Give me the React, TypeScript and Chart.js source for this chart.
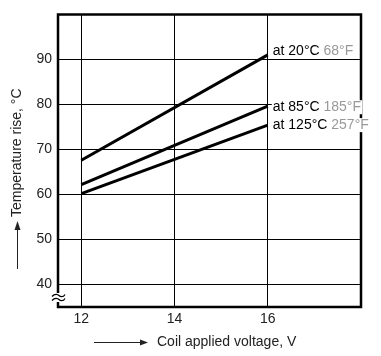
import React, { useEffect, useRef } from "react";
import { Chart, registerables } from "chart.js";

Chart.register(...registerables);

const voltages = [12, 16];
const rise20C = [67.6, 91.0];
const rise85C = [62.2, 79.6];
const rise125C = [60.2, 75.4];
const seriesLabelsC = ["at 20°C", "at 85°C", "at 125°C"];
const seriesLabelsF = ["68°F", "185°F", "257°F"];
const xTicks = [12, 14, 16];
const yTicks = [40, 50, 60, 70, 80, 90];
const xTitle = "Coil applied voltage, V";
const yTitle = "Temperature rise, °C";

const FONT = "'Liberation Sans', Arial, sans-serif";

const decorPlugin = {
  id: "decor",
  afterDatasetsDraw(chart: any) {
    const ctx = chart.ctx;
    const { left, right, top, bottom } = chart.chartArea;
    ctx.save();
    // frame
    ctx.strokeStyle = "#000";
    ctx.lineWidth = 2.5;
    ctx.beginPath();
    ctx.rect(left, top, right - left, bottom - top);
    ctx.stroke();

    // axis break mark
    ctx.fillStyle = "#fff";
    ctx.fillRect(left - 6, bottom - 14, 12, 9);
    ctx.strokeStyle = "#000";
    ctx.lineWidth = 1.3;
    [-11.5, -7.5].forEach((off) => {
      const y0 = bottom + off;
      ctx.beginPath();
      ctx.moveTo(left - 6, y0 + 1);
      ctx.bezierCurveTo(left - 3, y0 - 2.5, left, y0 - 1, left + 1, y0);
      ctx.bezierCurveTo(left + 2, y0 + 1, left + 5, y0 + 2.5, left + 7, y0 - 1);
      ctx.stroke();
    });

    // series end labels
    const xs = chart.scales.x;
    const ys = chart.scales.y;
    const sets = [rise20C, rise85C, rise125C];
    const dy = [-4, 1, 0];
    ctx.font = `14px ${FONT}`;
    ctx.textAlign = "left";
    ctx.textBaseline = "middle";
    sets.forEach((vals, i) => {
      const px = xs.getPixelForValue(voltages[voltages.length - 1]) + 5;
      const py = ys.getPixelForValue(vals[vals.length - 1]) + dy[i];
      const c = seriesLabelsC[i] + " ";
      const wc = ctx.measureText(c).width;
      const wf = ctx.measureText(seriesLabelsF[i]).width;
      ctx.fillStyle = "#fff";
      ctx.fillRect(px - 1, py - 7, wc + wf + 2, 14);
      ctx.fillStyle = "#000";
      ctx.fillText(c, px, py);
      ctx.fillStyle = "#999";
      ctx.fillText(seriesLabelsF[i], px + wc, py);
    });

    // x title with arrow
    ctx.fillStyle = "#222";
    ctx.strokeStyle = "#222";
    ctx.lineWidth = 1;
    const ty = 342;
    ctx.beginPath();
    ctx.moveTo(94, ty + 0.5);
    ctx.lineTo(142, ty + 0.5);
    ctx.stroke();
    ctx.beginPath();
    ctx.moveTo(148, ty + 0.5);
    ctx.lineTo(140, ty - 2.5);
    ctx.lineTo(140, ty + 3.5);
    ctx.closePath();
    ctx.fill();
    ctx.textAlign = "left";
    ctx.fillText(xTitle, 157, ty);

    // y title with arrow
    const tx = 17;
    ctx.beginPath();
    ctx.moveTo(tx + 0.5, 269);
    ctx.lineTo(tx + 0.5, 228);
    ctx.stroke();
    ctx.beginPath();
    ctx.moveTo(tx + 0.5, 221);
    ctx.lineTo(tx - 2.5, 230);
    ctx.lineTo(tx + 3.5, 230);
    ctx.closePath();
    ctx.fill();
    ctx.save();
    ctx.translate(tx, 217);
    ctx.rotate(-Math.PI / 2);
    ctx.textAlign = "left";
    ctx.textBaseline = "middle";
    ctx.fillText(yTitle, 0, 0);
    ctx.restore();

    ctx.restore();
  },
};

export default function App() {
  const ref = useRef<HTMLCanvasElement | null>(null);
  useEffect(() => {
    if (!ref.current) return;
    const mk = (vals: number[]) => ({
      data: voltages.map((v, i) => ({ x: v, y: vals[i] })),
      borderColor: "#000",
      borderWidth: 3,
      pointRadius: 0,
      fill: false,
      tension: 0,
    });
    const chart = new Chart(ref.current, {
      type: "line",
      data: { datasets: [mk(rise20C), mk(rise85C), mk(rise125C)] },
      options: {
        animation: false,
        responsive: false,
        layout: { padding: { left: 0, right: 20, top: 5, bottom: 0 } },
        plugins: { legend: { display: false }, tooltip: { enabled: false } },
        scales: {
          x: {
            type: "linear",
            min: 11.5,
            max: 18,
            afterBuildTicks: (s: any) => {
              s.ticks = xTicks.map((v) => ({ value: v }));
            },
            afterFit: (s: any) => {
              s.height = 49;
            },
            grid: { color: "#000", lineWidth: 1, drawTicks: false },
            border: { display: false },
            ticks: {
              color: "#222",
              font: { family: FONT, size: 14 },
              padding: 4,
              maxRotation: 0,
            },
          },
          y: {
            type: "linear",
            min: 35,
            max: 100,
            afterBuildTicks: (s: any) => {
              s.ticks = yTicks.map((v) => ({ value: v }));
            },
            afterFit: (s: any) => {
              s.width = 58;
            },
            grid: { color: "#000", lineWidth: 1, drawTicks: false },
            border: { display: false },
            ticks: {
              color: "#222",
              font: { family: FONT, size: 14 },
              padding: 6,
            },
          },
        },
      },
      plugins: [decorPlugin],
    });
    return () => chart.destroy();
  }, []);
  return (
    <div style={{ position: "fixed", left: 0, top: 0, width: 381, height: 356, background: "#fff" }}>
      <canvas ref={ref} width={381} height={356} style={{ width: 381, height: 356, display: "block" }} />
    </div>
  );
}
